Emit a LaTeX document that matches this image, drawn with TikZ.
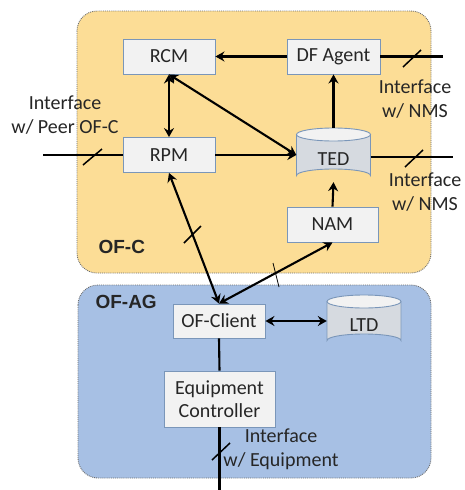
\documentclass[tikz,border=0pt]{standalone}
\usepackage{fontspec}
\setmainfont{Carlito}
\newfontfamily\labfont{Liberation Sans}
\usetikzlibrary{arrows.meta,calc}
\definecolor{ofcfill}{RGB}{252,221,150}
\definecolor{ofagfill}{RGB}{167,192,228}
\definecolor{boxfill}{RGB}{242,242,242}
\definecolor{boxline}{RGB}{122,150,185}
\definecolor{cylfill}{RGB}{214,218,224}
\definecolor{txt}{RGB}{38,38,38}
\definecolor{frame}{RGB}{110,110,110}
\begin{document}
\begin{tikzpicture}[x=1pt,y=-1pt,
  every node/.style={text=txt},
  region/.style={draw=frame, densely dotted, line width=0.9pt, rounded corners=20pt},
  mbox/.style={draw=boxline, fill=boxfill, line width=0.9pt, font=\fontsize{20}{24}\selectfont, inner sep=0pt, align=center},
  lbl/.style={font=\fontsize{20}{23.5}\selectfont, align=center},
  reg/.style={font=\labfont\bfseries\fontsize{19}{22}\selectfont},
  conn/.style={line width=2.1pt, black},
  arr/.style={conn, -{Stealth[length=9pt,width=10pt,inset=3pt]}},
  darr/.style={conn, {Stealth[length=9pt,width=10pt,inset=3pt]}-{Stealth[length=9pt,width=10pt,inset=3pt]}},
  slash/.style={line width=1.5pt, black}
]
\useasboundingbox (0,0) rectangle (465,490);
\fill[white] (0,0) rectangle (465,490);
% regions
\draw[region, fill=ofcfill] (77,11) rectangle (431,273);
\draw[region, fill=ofagfill] (78,285) rectangle (431,478);
\node[reg, anchor=west] (ofc) at (95,247) {OF-C};
\node[reg, anchor=west] (ofag) at (92,302) {OF-AG};
% boxes
\node[mbox, minimum width=92pt, minimum height=35pt] (RCM) at (169,56.5) {RCM};
\node[mbox, minimum width=93pt, minimum height=35pt] (DF) at (333.5,56.5) {DF Agent};
\node[mbox, minimum width=92pt, minimum height=35pt] (RPM) at (169,155) {RPM};
\node[mbox, minimum width=91pt, minimum height=35pt] (NAM) at (332.5,224.5) {NAM};
\node[mbox, minimum width=92pt, minimum height=34pt] (OFC) at (219,321) {OF-Client};
\node[mbox, minimum width=111pt, minimum height=56pt, font=\fontsize{20}{23}\selectfont] (EC) at (219.5,399) {Equipment\\Controller};
% cylinders
\newcommand{\mycyl}[6]{% name, cx, cy, rx, halfh, ry
  \fill[cylfill] (#2-#4,#3-#5+#6) -- (#2-#4,#3+#5-#6) arc[start angle=180,end angle=360,x radius=#4,y radius=#6] -- (#2+#4,#3-#5+#6) arc[start angle=0,end angle=-180,x radius=#4,y radius=#6] -- cycle;
  \fill[boxfill] (#2,#3-#5+#6) ellipse[x radius=#4,y radius=#6];
  \draw[boxline, line width=0.9pt] (#2-#4,#3-#5+#6) -- (#2-#4,#3+#5-#6) arc[start angle=180,end angle=360,x radius=#4,y radius=#6] -- (#2+#4,#3-#5+#6);
  \draw[boxline, line width=0.9pt] (#2,#3-#5+#6) ellipse[x radius=#4,y radius=#6];
  \node[inner sep=0pt, minimum width=2*#4 pt, minimum height=2*#5 pt] (#1) at (#2,#3) {};
}
\mycyl{TED}{333.5}{155}{37}{27}{6.5}
\node[font=\fontsize{20}{24}\selectfont] (tedtxt) at (333.5,159) {TED};
\mycyl{LTD}{364}{321}{37}{26}{6.5}
\node[font=\fontsize{20}{24}\selectfont] (ltdtxt) at (364,325) {LTD};
% free ends
\coordinate (leftend) at (43,155);
\coordinate (dfend) at (443,56.5);
\coordinate (tedend) at (453,157);
\coordinate (bottomend) at (219.5,490);
% connectors
\draw[arr] (DF.west) -- (RCM.east);
\draw[arr] (TED.north) -- (DF.south);
\draw[darr] (RCM.south) -- (RPM.north);
\draw[darr] (RCM.south) -- (TED.west);
\draw[arr] (RPM.east) -- (TED.west);
\draw[arr] (NAM.north) -- (TED.south);
\draw[darr] (OFC.north) -- (RPM.south);
\draw[darr] (OFC.north) -- (NAM.south);
\draw[darr] (OFC.east) -- (LTD.west);
\draw[conn] (OFC.south) -- (EC.north);
\draw[conn] (EC.south) -- (bottomend);
\draw[conn] (leftend) -- (RPM.west);
\draw[conn] (DF.east) -- (dfend);
\draw[conn] (TED.east |- tedend) -- (tedend);
% slashes
\draw[slash] (83,165) -- (102,149);
\draw[slash] (403,67) -- (421,50);
\draw[slash] (405,167) -- (423,150);
\draw[slash] (184,243) -- (201,226);
\draw[slash, line width=0.8pt] (273,263) -- (279,287);
\draw[slash] (212,460) -- (230,443);
% labels
\node[lbl] (l1) at (65,115) {Interface\\w/ Peer OF-C};
\node[lbl] (l2) at (415,99) {Interface\\w/ NMS};
\node[lbl] (l3) at (425,192) {Interface\\w/ NMS};
\node[lbl] (l4) at (281,449) {Interface\\w/ Equipment};
\end{tikzpicture}
\end{document}
